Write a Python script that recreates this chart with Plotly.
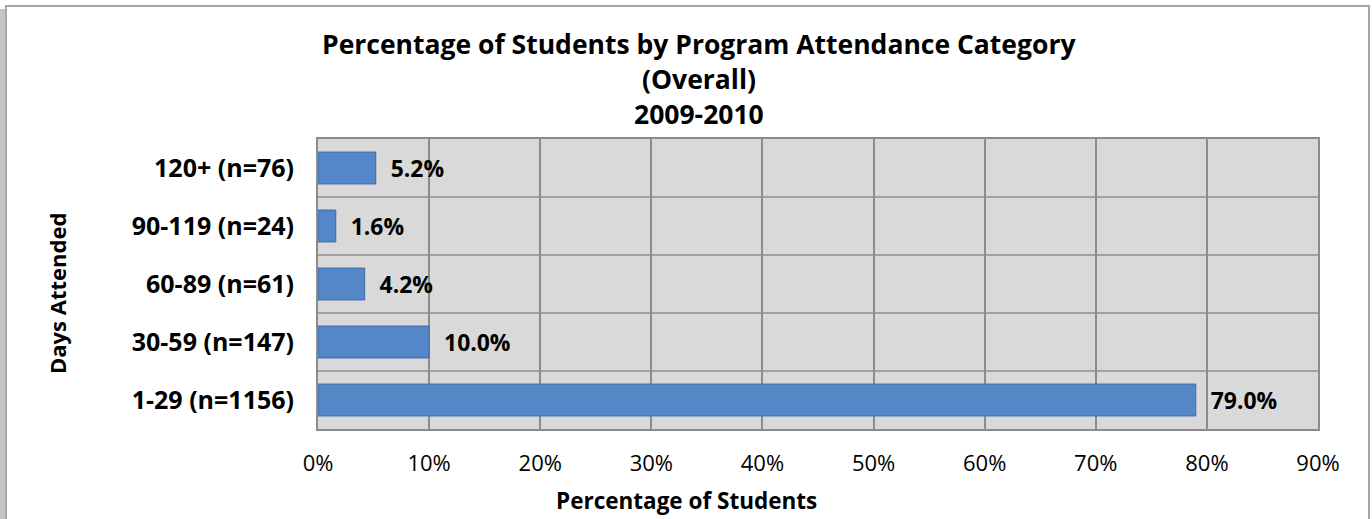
import plotly.graph_objects as go

categories = ["1-29 (n=1156)", "30-59 (n=147)", "60-89 (n=61)", "90-119 (n=24)", "120+ (n=76)"]
values = [79.0, 10.0, 4.2, 1.6, 5.2]
tick_vals = [0, 10, 20, 30, 40, 50, 60, 70, 80, 90]
tick_text = [f"{v}%" for v in tick_vals]
title_lines = ["Percentage of Students by Program Attendance Category", "(Overall)", "2009-2010"]

W, H = 1372, 519
L, R, T, B = 318, 54, 139, 90
pw, ph = W - L - R, H - T - B

def px(x):
    return (x - L) / pw

def py(y):
    return 1 - (y - T) / ph

font = "Open Sans"
fig = go.Figure()
fig.add_trace(go.Bar(
    x=values, y=categories, orientation="h",
    marker=dict(color="#5487c8", line=dict(color="#3b6aa3", width=1)),
    text=[f"  {v:.1f}%" for v in values],
    textposition="outside", cliponaxis=False,
    textfont=dict(family=font, size=23, color="#000000", weight="bold"),
    width=0.55,
))

fig.update_layout(
    width=W, height=H,
    margin=dict(l=L, r=R, t=T, b=B, autoexpand=False),
    paper_bgcolor="#ffffff", plot_bgcolor="#d9d9d9",
    showlegend=False,
    xaxis=dict(
        range=[0, 90], tickvals=tick_vals, ticktext=tick_text,
        showgrid=True, gridcolor="#8c8c8c", gridwidth=1.5,
        zeroline=False, showline=True, linecolor="#8c8c8c", linewidth=2, mirror=True,
        tickfont=dict(family=font, size=22, color="#000000"),
        ticks="", ticklabelstandoff=14,
    ),
    yaxis=dict(
        showgrid=False, zeroline=False, showline=True, linecolor="#8c8c8c", linewidth=2, mirror=True,
        tickfont=dict(family=font, size=25, color="#000000", weight="bold"),
        ticks="", ticklabelstandoff=17,
    ),
)

# title lines
for i, line in enumerate(title_lines):
    fig.add_annotation(text=line, xref="paper", yref="paper",
                       x=px(699), y=py([44, 79, 114][i]), xanchor="center", yanchor="middle",
                       showarrow=False,
                       font=dict(family=font, size=26.5, color="#000000", weight="bold"))

# axis titles
fig.add_annotation(text="Percentage of Students", xref="paper", yref="paper",
                   x=px(686), y=py(500), xanchor="center", yanchor="middle", showarrow=False,
                   font=dict(family=font, size=22.5, color="#000000", weight="bold"))
fig.add_annotation(text="Days Attended", xref="paper", yref="paper",
                   x=px(57), y=py(294), xanchor="center", yanchor="middle", showarrow=False,
                   textangle=-90,
                   font=dict(family=font, size=22, color="#000000", weight="bold"))

# horizontal gridlines between categories
for k in range(1, len(categories)):
    fig.add_shape(type="line", xref="paper", yref="paper",
                  x0=0, x1=1, y0=k / len(categories), y1=k / len(categories),
                  line=dict(color="#8c8c8c", width=1.5), layer="below")

# outer chart frame with shadow
fig.add_shape(type="rect", xref="paper", yref="paper",
              x0=px(0), x1=px(7), y0=py(530), y1=py(9),
              line=dict(width=0), fillcolor="#c4c4c4", layer="below")
fig.add_shape(type="rect", xref="paper", yref="paper",
              x0=px(6), x1=px(1369), y0=py(530), y1=py(6),
              line=dict(color="#a6a6a6", width=2), fillcolor="rgba(255,255,255,0)")

fig.write_html("out.html", config={"displayModeBar": False},
               post_script="document.body.style.margin='0';document.body.style.padding='0';")
